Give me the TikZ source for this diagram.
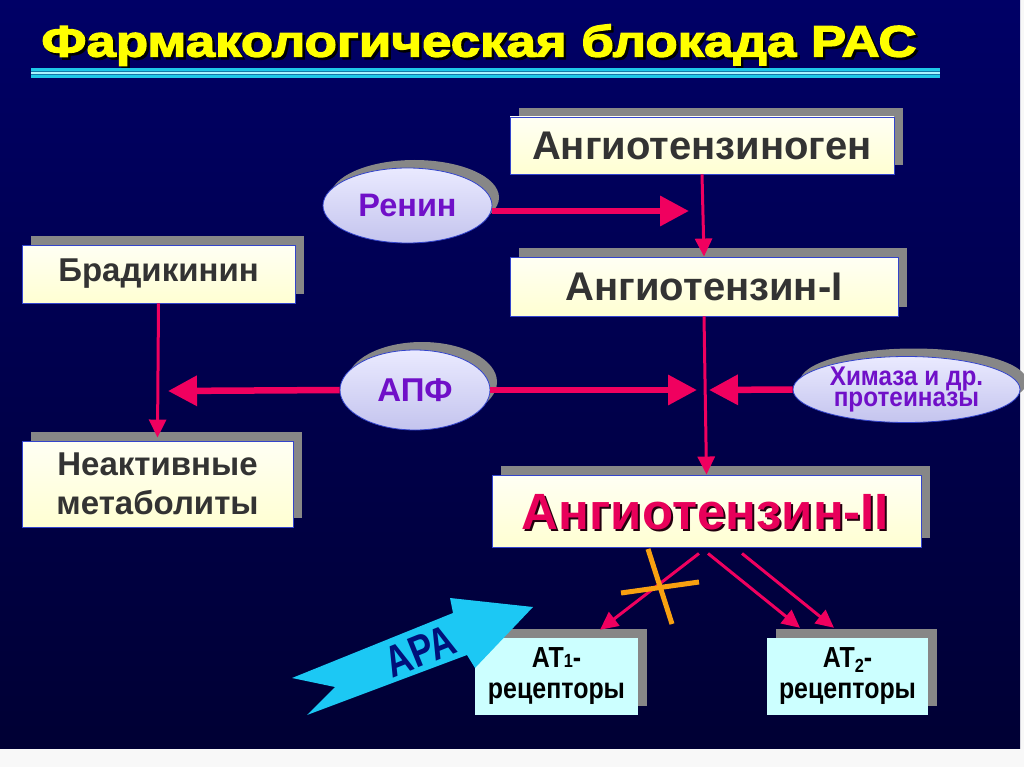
\documentclass[tikz,border=0pt]{standalone}
\usepackage{fontspec}
\setmainfont{Liberation Sans}
\newfontfamily\narrowf[FakeStretch=0.86]{Liberation Sans}
\newfontfamily\chymf[FakeStretch=0.9]{Liberation Sans}
\newfontfamily\araf[FakeStretch=0.8]{Liberation Sans}
\newfontfamily\titlef[FakeStretch=1.2,FakeBold=3]{Liberation Sans}
\usetikzlibrary{arrows.meta,shadows,shapes.geometric,calc}
\definecolor{bgtop}{HTML}{000066}
\definecolor{bgbot}{HTML}{000034}
\definecolor{arr}{HTML}{F0005F}
\definecolor{boxtop}{HTML}{FFFFF4}
\definecolor{boxbot}{HTML}{FFFFD2}
\definecolor{boxline}{HTML}{3344CC}
\definecolor{shgray}{HTML}{878787}
\definecolor{elltop}{HTML}{EAEAFF}
\definecolor{ellbot}{HTML}{C4C4EE}
\definecolor{purp}{HTML}{7010C8}
\definecolor{cyanbox}{HTML}{CCFFFF}
\definecolor{apacol}{HTML}{1CC8F4}
\definecolor{apatext}{HTML}{00107A}
\definecolor{orng}{HTML}{F8A010}
\definecolor{txt}{HTML}{333333}
\definecolor{a2red}{HTML}{E8005A}
\definecolor{stripe}{HTML}{1EC8E8}
\definecolor{stripedark}{HTML}{1478A8}
\definecolor{stripelight}{HTML}{A8F4FF}
\definecolor{pagebg}{HTML}{F8F8F8}
\definecolor{titleyellow}{HTML}{FFFF00}
\tikzset{
  boxshadow/.style={drop shadow={shadow xshift=9pt, shadow yshift=9pt, fill=shgray, opacity=1}},
  ybox/.style={rectangle, draw=boxline, line width=0.9pt, top color=boxtop, bottom color=boxbot,
    boxshadow, inner sep=0pt, text=txt, align=center},
  cbox/.style={rectangle, fill=cyanbox, boxshadow, inner sep=0pt, text=black, align=center},
  ell/.style={ellipse, draw=boxline, line width=0.8pt, top color=elltop, bottom color=ellbot,
    drop shadow={shadow xshift=7pt, shadow yshift=8pt, fill=shgray, opacity=1},
    inner sep=0pt, text=purp, align=center},
  bigarrow/.style={draw=arr, line width=6.5pt, -{Triangle[length=29pt,width=29pt]}},
  thinarrow/.style={draw=arr, line width=3pt, -{Triangle[length=18pt,width=17pt]}},
  cross/.style={draw=orng, line width=5pt},
}
\begin{document}
\begin{tikzpicture}[x=1pt,y=-1pt]
\useasboundingbox (0,0) rectangle (1024,767);
\fill[pagebg] (0,0) rectangle (1024,767);
\shade[top color=bgtop, bottom color=bgbot] (0,0) rectangle (1020,748);

% title
\node[text=black, font=\titlef\fontsize{44}{48}\selectfont\bfseries] (titlesh) at (481.5,47.5) {Фармакологическая блокада РАС};
\node[text=titleyellow, font=\titlef\fontsize{44}{48}\selectfont\bfseries] (title) at (479,45) {Фармакологическая блокада РАС};
\fill[stripe] (31,68) rectangle (940,78);
\fill[stripedark] (31,71) rectangle (940,71.8);
\fill[stripelight] (31,71.8) rectangle (940,74);
\fill[stripedark] (31,74) rectangle (940,74.8);

% boxes
\node[ybox, minimum width=384pt, minimum height=57pt, font=\fontsize{40}{44}\selectfont\bfseries] (ago) at (702,145.5) {Ангиотензиноген};
\node[ybox, minimum width=388pt, minimum height=59pt, font=\fontsize{40}{44}\selectfont\bfseries] (a1) at (704,286.5) {Ангиотензин-I};
\node[ybox, minimum width=273pt, minimum height=58pt, font=\fontsize{33}{38}\selectfont\bfseries] (brady) at (158.5,274) {Брадикинин};
\node[ybox, minimum width=271pt, minimum height=86pt, font=\fontsize{33}{39}\selectfont\bfseries] (inact) at (157.5,484) {Неактивные\\метаболиты};
\node[ybox, minimum width=429pt, minimum height=72pt] (a2) at (706.5,511) {};
\node[text=black!85!a2red, font=\fontsize{51}{54}\selectfont\bfseries] (a2textsh) at (707.5,514.5) {Ангиотензин-II};
\node[text=a2red, font=\fontsize{51}{54}\selectfont\bfseries] (a2text) at (705.5,512.5) {Ангиотензин-II};

% ellipses
\node[ell, minimum width=169pt, minimum height=75pt, font=\fontsize{32.5}{36}\selectfont\bfseries] (renin) at (407.5,205.5) {Ренин};
\node[ell, minimum width=150pt, minimum height=80pt, font=\fontsize{33}{36}\selectfont\bfseries] (apf) at (415,390) {АПФ};
\node[ell, minimum width=227pt, minimum height=66pt, font=\chymf\fontsize{27}{18}\selectfont\bfseries] (chym) at (906.5,389.5) {Химаза и др.\\протеиназы};

% connector end points
\coordinate (rtip) at (689,211);
\coordinate (ltip) at (168,391);
\coordinate (mtip) at (697,390);
\coordinate (ctip) at (709,390);

% arrows
\draw[bigarrow] ([yshift=-5.5pt]renin.east) -- (rtip);
\draw[thinarrow] (ago.south) -- (a1.north);
\draw[thinarrow] (a1.south) -- (a2.north);
\draw[thinarrow] (brady.south) -- ([yshift=3pt]inact.north);
\draw[bigarrow] (apf.west) -- (ltip);
\draw[bigarrow] (apf.east) -- (mtip);
\draw[bigarrow] (chym.west) -- (ctip);

% receptor boxes
\node[cbox, minimum width=163pt, minimum height=77pt, font=\narrowf\fontsize{29}{31}\selectfont\bfseries] (at1) at (556.5,676.5) {АТ{\fontsize{19}{19}\selectfont 1}-\\рецепторы};
\node[cbox, minimum width=161pt, minimum height=77pt, font=\narrowf\fontsize{29}{31}\selectfont\bfseries] (at2) at (847.5,676.5) {АТ\raisebox{-5pt}{\fontsize{19}{19}\selectfont 2}-\\рецепторы};

\draw[thinarrow] ([xshift=-7.5pt,yshift=-6pt]a2.south) -- ([xshift=43.5pt,yshift=8pt]at1.north);
\draw[thinarrow] ([xshift=1.5pt,yshift=-6pt]a2.south) -- ([xshift=-47.5pt,yshift=10pt]at2.north);
\draw[thinarrow] ([xshift=35.5pt,yshift=-6pt]a2.south) -- ([xshift=-13.5pt,yshift=10pt]at2.north);

% blocking cross
\draw[cross] (648,549) -- (672,624);
\draw[cross] (621,593) -- (699,582);

% ARA arrow
\fill[apacol] (292,678) -- (453,613) -- (450,598) -- (533,607) -- (475,668) -- (467,655) -- (307,715) -- (335,687) -- cycle;
\node[text=apatext, rotate=22, font=\araf\fontsize{44}{46}\selectfont\bfseries] (ara) at (420,651) {АРА};
\end{tikzpicture}
\end{document}
